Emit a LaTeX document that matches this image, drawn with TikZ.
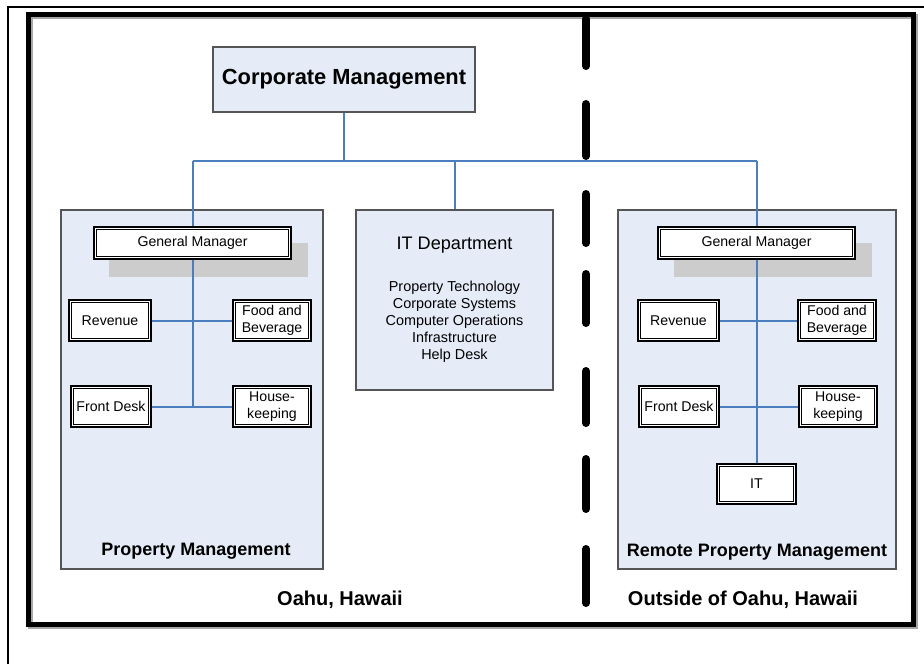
\documentclass[tikz,border=0pt]{standalone}
\usepackage{fontspec}
\setmainfont{Liberation Sans}
\definecolor{panelfill}{HTML}{E6ECF7}
\definecolor{panelline}{HTML}{555555}
\definecolor{linkblue}{HTML}{4A7EBF}
\definecolor{shadowgray}{HTML}{CCCCCC}
\tikzset{
  sz/.style 2 args={minimum width=#1*0.75pt, minimum height=#2*0.75pt, inner sep=0pt},
  panel/.style={draw=panelline, line width=0.8pt, fill=panelfill},
  unitbox/.style={draw=black, fill=white, line width=1.7pt,
    font=\fontsize{10.6}{12.5}\selectfont, align=center,
    path picture={\draw[line width=0.6pt]
      ([shift={(2.1pt,-2.1pt)}]path picture bounding box.north west) rectangle
      ([shift={(-2.1pt,2.1pt)}]path picture bounding box.south east);}},
  link/.style={draw=linkblue, line width=1.5pt},
  gshadow/.style={fill=shadowgray},
  divider/.style={line width=6pt, line cap=round},
}
\begin{document}
\begin{tikzpicture}[x=0.75pt,y=-0.75pt]
\useasboundingbox (0,0) rectangle (924,664);
\fill[white] (0,0) rectangle (924,664);

% outer thin frame
\draw[line width=1.5pt] (8,664) -- (8,7) -- (924,7);
% heavy frame with soft shadow
\draw[line width=3.75pt, draw=black!35] (30.5,16.5) rectangle (915,626);
\draw[line width=3.75pt] (28.5,14.5) rectangle (913,624);

% top level
\node[sz={262}{65}, panel, font=\fontsize{16.4}{19}\selectfont\bfseries] (corp) at (344,79.5) {Corporate Management};

% left panel
\node[sz={262}{359}, panel] (pm) at (192,389.5) {};
\fill[gshadow] (109,243) rectangle (308,277);
\node[sz={197}{32}, unitbox] (gmL) at (192.5,243) {General Manager};
\node[sz={82}{41}, unitbox] (revL) at (110,320.5) {Revenue};
\node[sz={78}{41}, unitbox] (fbL) at (272,320.5) {Food and\\Beverage};
\node[sz={80}{41}, unitbox] (fdL) at (111,406.5) {Front Desk};
\node[sz={78}{41}, unitbox] (hkL) at (272,406.5) {House-\\keeping};
\node[font=\fontsize{13.5}{16}\selectfont\bfseries] (pmlabel) at (196,551) {Property Management};

% IT department
\node[sz={197}{180}, panel] (itdept) at (454.5,300) {};
\node[font=\fontsize{13.6}{16}\selectfont] (ittitle) at (454.5,245) {IT Department};
\node[font=\fontsize{10.8}{12.75}\selectfont, align=center] (itlist) at (454.5,322)
  {Property Technology\\Corporate Systems\\Computer Operations\\Infrastructure\\Help Desk};

% right panel
\node[sz={278}{359}, panel] (rpm) at (757,389.5) {};
\fill[gshadow] (674,243) rectangle (872,277);
\node[sz={197}{32}, unitbox] (gmR) at (756.5,243) {General Manager};
\node[sz={81}{41}, unitbox] (revR) at (678.5,320.5) {Revenue};
\node[sz={78}{41}, unitbox] (fbR) at (837,320.5) {Food and\\Beverage};
\node[sz={80}{41}, unitbox] (fdR) at (679,406.5) {Front Desk};
\node[sz={78}{41}, unitbox] (hkR) at (838,406.5) {House-\\keeping};
\node[sz={79}{40}, unitbox] (itR) at (756.5,484) {IT};
\node[font=\fontsize{13.5}{16}\selectfont\bfseries] (rpmlabel) at (757,552) {Remote Property Management};

% location labels
\node[font=\fontsize{15}{18}\selectfont\bfseries] (oahu) at (340,600) {Oahu, Hawaii};
\node[font=\fontsize{15}{18}\selectfont\bfseries] (outside) at (743,600) {Outside of Oahu, Hawaii};

% connectors
\coordinate (busL) at (192.5,161);
\coordinate (busR) at (756.5,161);
\draw[link] (corp.south) -- (corp.south |- busL);
\draw[link] (busL) -- (busR);
\draw[link] (busL) -- (gmL.north);
\draw[link] (itdept.north) -- (itdept.north |- busL);
\draw[link] (busR) -- (gmR.north);

\draw[link] (gmL.south) -- (gmL.south |- fdL.east);
\draw[link] (revL.east) -- (fbL.west);
\draw[link] (fdL.east) -- (hkL.west);

\draw[link] (gmR.south) -- (itR.north);
\draw[link] (revR.east) -- (fbR.west);
\draw[link] (fdR.east) -- (hkR.west);

% dashed divider between the two regions
\foreach \ya/\yb in {15/70, 100/160, 190/247, 270/327, 367/427, 455/513, 545/607}
  \draw[divider] (586,\ya+4) -- (586,\yb-4);
\end{tikzpicture}
\end{document}
